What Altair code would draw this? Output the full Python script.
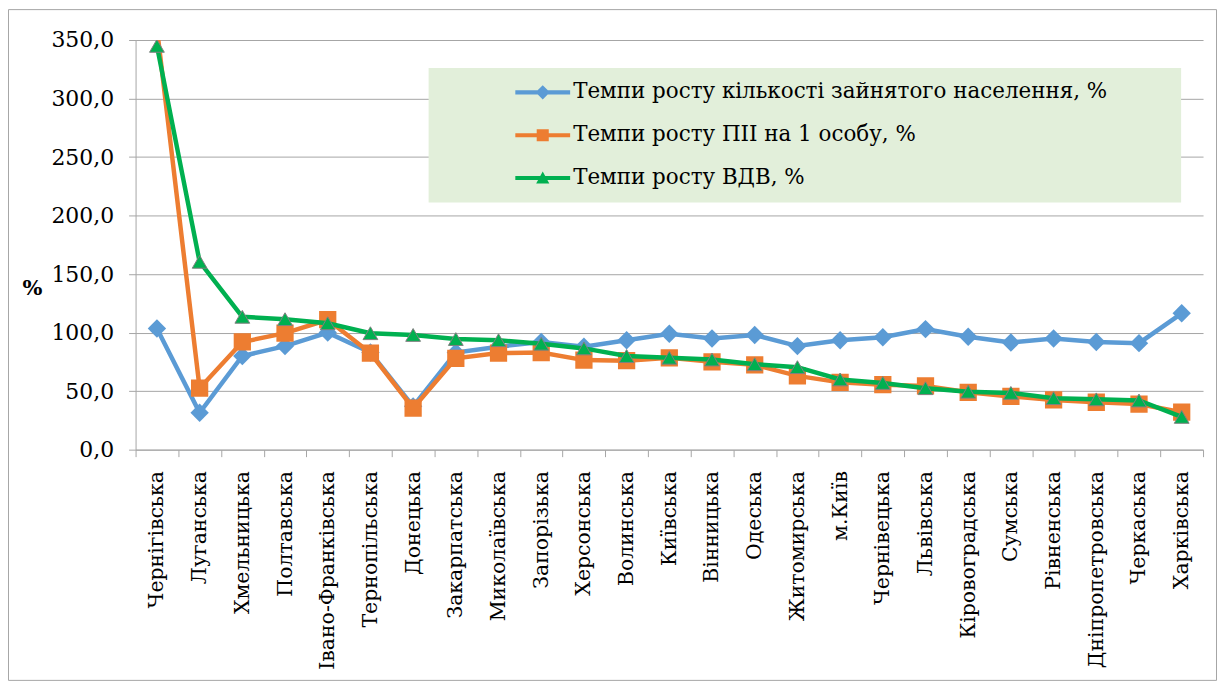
import altair as alt
import pandas as pd

regions = ["Чернігівська", "Луганська", "Хмельницька", "Полтавська", "Івано-Франківська",
           "Тернопільська", "Донецька", "Закарпатська", "Миколаївська", "Запорізька",
           "Херсонська", "Волинська", "Київська", "Вінницька", "Одеська", "Житомирська",
           "м.Київ", "Чернівецька", "Львівська", "Кіровоградська", "Сумська", "Рівненська",
           "Дніпропетровська", "Черкаська", "Харківська"]
employment = [103.5, 31.5, 80.0, 88.5, 100.0, 83.0, 37.0, 83.0, 88.0, 92.0, 88.0, 93.5, 99.0,
              95.0, 98.0, 88.5, 93.5, 96.0, 103.0, 96.5, 91.5, 95.0, 92.0, 91.0, 116.5]
investment = [360.0, 52.5, 92.0, 99.5, 111.0, 82.5, 35.5, 78.0, 82.5, 83.0, 76.5, 76.0, 78.5,
              75.0, 72.5, 63.0, 57.5, 55.5, 54.5, 49.0, 45.5, 42.5, 40.5, 39.0, 32.0]
gva = [345.0, 160.5, 113.5, 111.5, 108.0, 99.5, 98.0, 94.5, 93.5, 90.5, 86.5, 80.0, 78.5,
       77.0, 73.0, 70.5, 60.0, 57.0, 52.5, 49.5, 48.5, 44.0, 43.0, 42.0, 28.0]
series_names = ["Темпи росту кількості зайнятого населення, %",
                "Темпи росту ПІІ на 1 особу, %",
                "Темпи росту ВДВ, %"]
colors = ["#5B9BD5", "#ED7D31", "#00B050"]
y_ticks = [0, 50, 100, 150, 200, 250, 300, 350]

rows = []
for name, vals in zip(series_names, [employment, investment, gva]):
    for r, v in zip(regions, vals):
        rows.append({"region": r, "series": name, "value": v})
df = pd.DataFrame(rows)

FONT = "DejaVu Serif"
W, H = 1071, 411
GRAY = "#A6A6A6"

x_enc = alt.X("region:N", sort=regions,
              scale=alt.Scale(type="band", paddingInner=0, paddingOuter=0),
              axis=alt.Axis(title=None, labelAngle=270, labelFont=FONT, labelFontSize=20.5,
                            labelColor="black", labelPadding=14, tickBand="extent",
                            tickSize=7, tickColor=GRAY, domainColor=GRAY, grid=False,
                            labelLimit=300))
y_enc = alt.Y("value:Q", scale=alt.Scale(domain=[0, 350], nice=False),
              axis=alt.Axis(values=y_ticks,
                            labelExpr="replace(format(datum.value, '.1f'), '.', ',')",
                            title="%", titleAngle=0, titleFont=FONT, titleFontWeight="bold",
                            titleFontSize=21, titleX=-104, titleY=249, titleAlign="center",
                            titleBaseline="middle", titleColor="black",
                            labelFont=FONT, labelFontSize=22, labelColor="black",
                            labelPadding=15, tickSize=7, tickColor=GRAY, domainColor=GRAY,
                            gridColor=GRAY, gridWidth=1))

dummy = alt.Chart(pd.DataFrame({"a": [0]}))
legend_bg = dummy.mark_rect(fill="#E2EFDA").encode(
    x=alt.value(294), x2=alt.value(1049), y=alt.value(28), y2=alt.value(163))
border = dummy.mark_rect(fill="transparent", stroke=GRAY, strokeWidth=1).encode(
    x=alt.value(-127.5), x2=alt.value(1084.5), y=alt.value(-30.5), y2=alt.value(642.5))

base = alt.Chart(df)
shapes = ["diamond", "square", "triangle-up"]
sizes = [340, 300, 220]
layers = [legend_bg]
for name, col, shp, sz in zip(series_names, colors, shapes, sizes):
    sub = base.transform_filter(alt.datum.series == name)
    layers.append(sub.mark_line(color=col, strokeWidth=4.5, clip=True).encode(x=x_enc, y=y_enc))
    if shp == "triangle-up":
        pt = sub.mark_point(shape=shp, filled=True, fill=col, stroke="#7F7F7F", strokeWidth=1,
                            size=sz, opacity=1, clip=True)
    else:
        pt = sub.mark_point(shape=shp, filled=True, fill=col, strokeWidth=0,
                            size=sz, opacity=1, clip=True)
    layers.append(pt.encode(x=x_enc, y=y_enc))

leg_paths = [
    "M-1,-0.075H1V0.075H-1Z M0,-0.26L0.26,0L0,0.26L-0.26,0Z",
    "M-1,-0.075H1V0.075H-1Z M-0.22,-0.22H0.22V0.22H-0.22Z",
    "M-1,-0.075H1V0.075H-1Z M0,-0.24L0.24,0.2H-0.24Z",
]
leg = alt.Legend(title=None, orient="none", legendX=381, legendY=25, symbolOpacity=1,
                 symbolSize=3025, symbolStrokeWidth=0, labelFont=FONT, labelFontSize=21.5,
                 labelColor="black", rowPadding=5, labelOffset=3, labelLimit=900)
legend_layer = base.mark_point(filled=True, opacity=0).encode(
    x=x_enc, y=y_enc,
    color=alt.Color("series:N", scale=alt.Scale(domain=series_names, range=colors), legend=leg),
    shape=alt.Shape("series:N", scale=alt.Scale(domain=series_names, range=leg_paths), legend=leg),
)
layers.append(border)
layers.append(legend_layer)

chart = alt.layer(*layers).properties(
    width=W, height=H,
    autosize=alt.AutoSizeParams(type="none"),
    padding={"left": 128, "top": 31, "right": 14, "bottom": 232},
    background="white",
).configure_view(stroke=None)

chart.save("out.html", embed_options={"renderer": "svg", "actions": False})
